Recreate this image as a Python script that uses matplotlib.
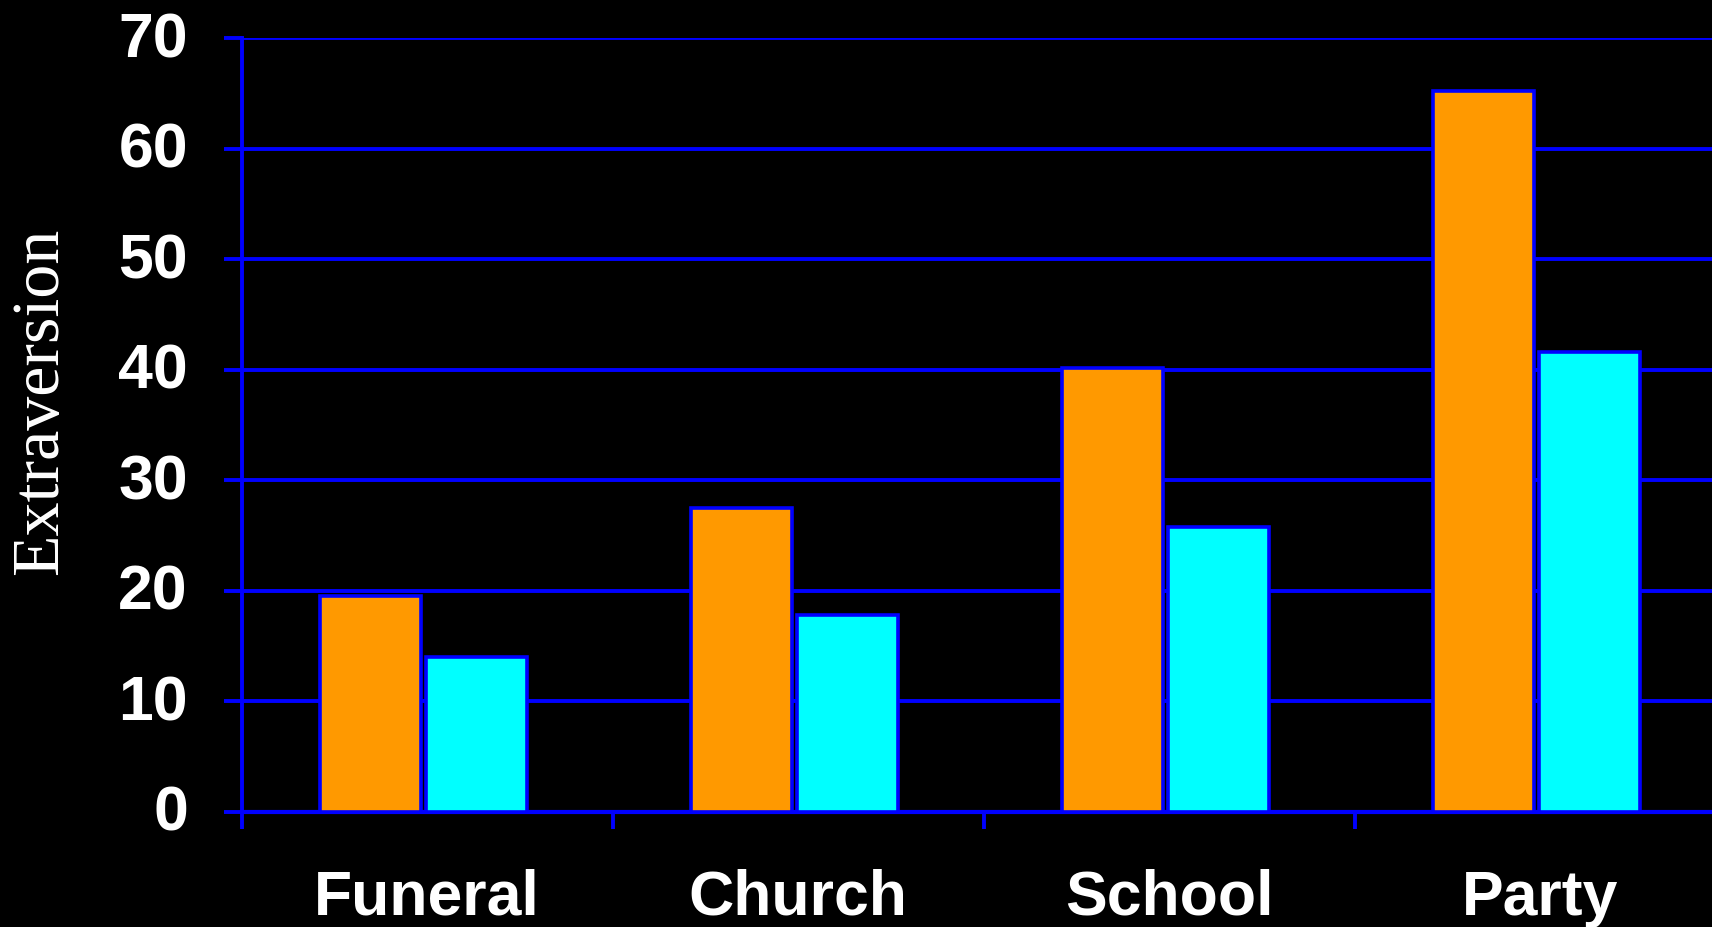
#import necessary libraries
import numpy as np
import matplotlib.pyplot as plt
import matplotlib.transforms as mtrans

#categories and values
categories = ["Funeral", "Church", "School", "Party"]
orange_vals = [19.5, 27.5, 40.2, 65.2]
cyan_vals = [14.0, 17.8, 25.8, 41.6]
y_ticks = [0, 10, 20, 30, 40, 50, 60, 70]

BLUE = "#0000FF"
fig = plt.figure(figsize=(17.12, 9.28), dpi=100, facecolor="black")
ax = fig.add_axes([241.7/1712, 1-813/928, 1484/1712, 774/928], facecolor="black")

x = np.arange(len(categories))
w = 0.272
ax.bar(x - 0.152, orange_vals, w, color="#FF9900", edgecolor=BLUE, linewidth=2.6, zorder=3)
ax.bar(x + 0.134, cyan_vals, w, color="#00FFFF", edgecolor=BLUE, linewidth=2.6, zorder=3)

#axes limits and grid
ax.set_xlim(-0.5, 3.5)
ax.set_ylim(0, 70)
ax.set_yticks(y_ticks)
ax.yaxis.grid(True, color=BLUE, linewidth=2.8)
ax.set_axisbelow(True)

for s in ["top", "right"]:
    ax.spines[s].set_visible(False)
ax.spines["left"].set_color(BLUE)
ax.spines["left"].set_linewidth(2.8)
ax.spines["bottom"].set_color(BLUE)
ax.spines["bottom"].set_linewidth(3.0)
ax.spines["left"].set_bounds(0, 70)

#tick labels
ax.set_xticks(x)
ax.set_xticklabels(categories)
ax.set_xticks(np.arange(-0.5, 4, 1), minor=True)
ax.tick_params(axis="x", which="major", length=0, pad=40, labelcolor="white", labelsize=45)
ax.tick_params(axis="x", which="minor", length=12.5, width=2.8, color=BLUE, direction="out")
ax.tick_params(axis="y", length=12.7, width=2.8, color=BLUE, pad=26, labelcolor="white", labelsize=45)
shift = mtrans.ScaledTranslation(0, 5/100, fig.dpi_scale_trans)
for lab in ax.get_xticklabels() + ax.get_yticklabels():
    lab.set_fontfamily("Liberation Sans")
    lab.set_fontweight("bold")
for lab in ax.get_yticklabels():
    lab.set_transform(lab.get_transform() + shift)

#y axis label
fig.text(41/1712, 1-401/928, "Extraversion", rotation=90, color="white",
         fontsize=49, family="Liberation Serif", ha="center", va="center")

plt.savefig("out.png", dpi=100, facecolor="black")
